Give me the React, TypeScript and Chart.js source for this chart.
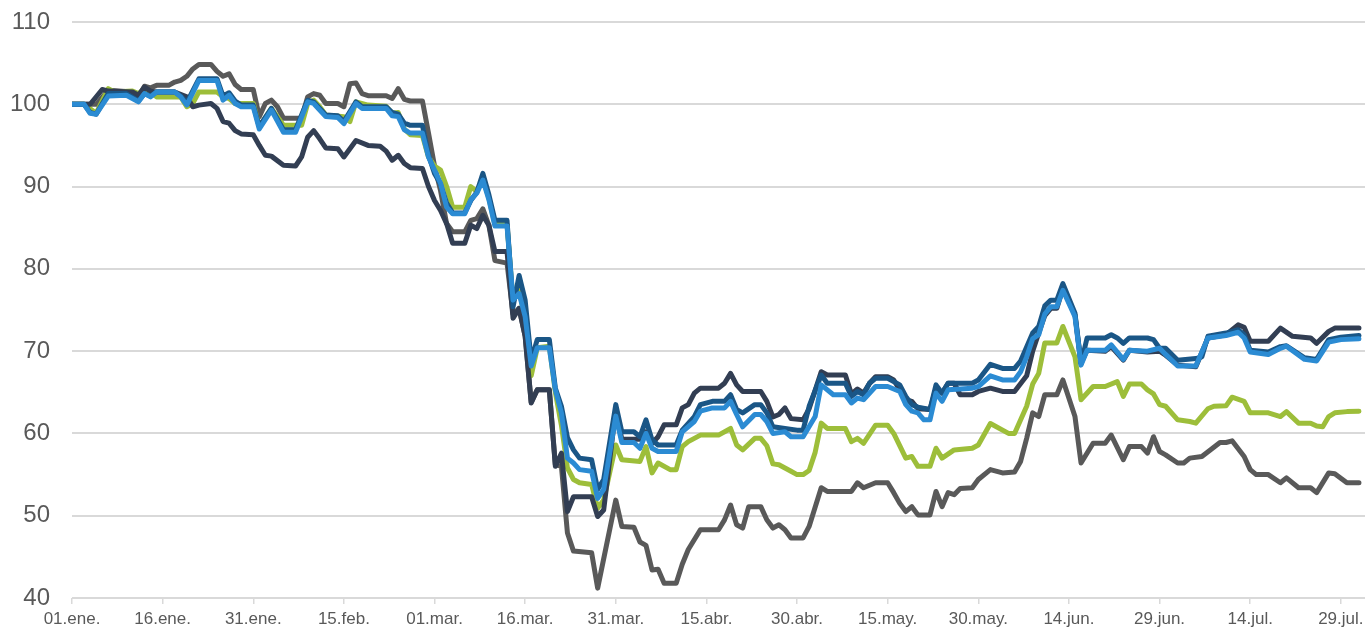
import React, { useEffect, useRef } from "react";
import { Chart, registerables } from "chart.js";

Chart.register(...registerables);

// x = days since 01.ene.
const tickDays = [0, 15, 30, 45, 60, 75, 90, 105, 120, 135, 150, 165, 180, 195, 210];
const tickLabels = ["01.ene.", "16.ene.", "31.ene.", "15.feb.", "01.mar.", "16.mar.", "31.mar.", "15.abr.", "30.abr.", "15.may.", "30.may.", "14.jun.", "29.jun.", "14.jul.", "29.jul."];
const yTicks = [40, 50, 60, 70, 80, 90, 100, 110];

const grayDays = [0, 4, 6, 10, 11, 12, 13, 14, 16, 17, 18, 19, 20, 21, 23, 24, 25, 26, 27, 28, 30, 31, 32, 33, 34, 35, 38, 39, 40, 41, 42, 44, 45, 46, 47, 48, 49, 52, 53, 54, 55, 56, 58, 59, 60, 61, 62, 63, 65, 66, 67, 68, 69, 70, 72, 73, 74, 75, 76, 77, 79, 80, 81, 82, 83, 86, 87, 90, 91, 93, 94, 95, 96, 97, 98, 100, 101, 102, 104, 107, 108, 109, 110, 111, 112, 114, 115, 116, 117, 118, 119, 121, 122, 124, 125, 129, 130, 131, 133, 135, 136, 137, 138, 139, 140, 142, 143, 144, 145, 146, 147, 149, 150, 152, 154, 156, 157, 158, 159, 160, 161, 163, 164, 166, 167, 169, 171, 172, 174, 175, 177, 178, 179, 180, 181, 183, 184, 185, 187, 190, 191, 192, 194, 195, 196, 198, 200, 201, 203, 205, 206, 208, 209, 211, 213];
const grayValues = [100, 100, 101.7, 101.5, 100.9, 102.2, 102.0, 102.3, 102.3, 102.7, 102.9, 103.4, 104.3, 104.85, 104.85, 104.0, 103.4, 103.7, 102.4, 101.8, 101.8, 98.5, 100.1, 100.5, 99.7, 98.3, 98.3, 100.9, 101.3, 101.1, 100.1, 100.1, 99.7, 102.5, 102.6, 101.3, 101.05, 101.05, 100.7, 101.9, 100.6, 100.4, 100.4, 96.5, 92.5, 89.5, 85.5, 84.5, 84.5, 85.9, 86.1, 87.3, 85.3, 81.0, 80.7, 74.5, 75.2, 71.8, 63.8, 65.3, 65.3, 56.2, 56.0, 47.9, 45.7, 45.5, 41.2, 51.9, 48.7, 48.6, 46.8, 46.4, 43.4, 43.5, 41.8, 41.8, 44.1, 45.9, 48.3, 48.3, 49.5, 51.3, 48.9, 48.5, 51.1, 51.1, 49.5, 48.5, 48.9, 48.3, 47.3, 47.3, 48.7, 53.4, 52.95, 52.95, 54.0, 53.4, 54.0, 54.0, 52.8, 51.5, 50.5, 51.1, 50.1, 50.1, 52.95, 51.1, 52.8, 52.55, 53.3, 53.4, 54.4, 55.6, 55.2, 55.3, 56.6, 59.4, 62.5, 62.05, 64.7, 64.7, 66.5, 62.05, 56.4, 58.8, 58.8, 59.8, 56.8, 58.4, 58.4, 57.6, 59.6, 57.8, 57.4, 56.4, 56.4, 57.0, 57.2, 58.9, 58.9, 59.1, 57.2, 55.6, 55.0, 55.0, 54.0, 54.6, 53.4, 53.4, 52.8, 55.2, 55.1, 54.0, 54.0];

const navyDays = [0, 3, 5, 6, 10, 11, 12, 13, 14, 17, 19, 20, 21, 23, 24, 25, 26, 27, 28, 30, 31, 32, 33, 35, 37, 38, 39, 40, 41, 42, 44, 45, 47, 49, 51, 52, 53, 54, 55, 56, 58, 59, 60, 61, 62, 63, 65, 66, 67, 68, 69, 70, 72, 73, 74, 75, 76, 77, 79, 80, 81, 82, 83, 86, 87, 88, 90, 91, 94, 95, 96, 97, 98, 100, 101, 102, 103, 104, 107, 108, 109, 110, 111, 114, 115, 116, 117, 118, 119, 121, 122, 124, 125, 128, 129, 130, 131, 132, 133, 135, 136, 138, 139, 140, 142, 143, 144, 145, 146, 147, 149, 150, 152, 154, 156, 158, 159, 160, 161, 162, 163, 164, 166, 167, 168, 171, 172, 174, 175, 178, 180, 181, 183, 186, 188, 191, 193, 194, 195, 198, 200, 202, 205, 206, 208, 209, 213];
const navyValues = [100, 100, 101.8, 101.6, 101.5, 101.1, 102.1, 101.6, 101.5, 101.5, 100.9, 99.7, 99.9, 100.1, 99.5, 97.9, 97.7, 96.8, 96.4, 96.3, 95.0, 93.8, 93.7, 92.6, 92.5, 93.6, 96.0, 96.8, 95.8, 94.7, 94.6, 93.6, 95.6, 95.0, 94.9, 94.3, 93.2, 93.8, 92.8, 92.3, 92.2, 90.0, 88.3, 87.1, 85.5, 83.1, 83.1, 85.3, 84.9, 86.5, 85.3, 82.1, 82.1, 74.0, 75.2, 71.8, 63.7, 65.3, 65.3, 56.0, 57.6, 50.5, 52.3, 52.3, 49.9, 50.7, 62.9, 59.3, 59.3, 60.2, 58.8, 59.6, 61.05, 61.05, 63.1, 63.5, 64.9, 65.5, 65.5, 66.1, 67.3, 65.9, 65.1, 65.1, 63.9, 62.0, 62.3, 63.1, 61.8, 61.65, 63.0, 67.5, 67.1, 67.1, 64.8, 65.4, 64.9, 66.1, 66.9, 66.9, 66.5, 64.1, 63.9, 63.0, 62.9, 65.5, 64.9, 66.1, 66.1, 64.7, 64.7, 65.1, 65.5, 65.1, 65.1, 67.0, 70.0, 72.2, 74.3, 75.2, 75.2, 77.6, 74.4, 68.5, 70.1, 70.0, 70.55, 68.9, 70.1, 69.9, 70.0, 69.5, 68.3, 68.1, 71.6, 72.0, 73.2, 72.9, 71.2, 71.2, 72.8, 71.8, 71.6, 70.95, 72.4, 72.8, 72.8];

const greenDays = [0, 2, 4, 6, 7, 10, 11, 12, 13, 14, 18, 19, 20, 21, 24, 25, 26, 27, 30, 31, 33, 35, 38, 39, 40, 41, 42, 45, 46, 47, 49, 52, 53, 54, 55, 56, 58, 59, 60, 61, 62, 63, 65, 66, 67, 68, 69, 70, 72, 73, 74, 75, 76, 77, 79, 80, 81, 82, 83, 84, 86, 87, 88, 90, 91, 94, 95, 96, 97, 99, 100, 101, 102, 104, 107, 109, 110, 111, 113, 114, 115, 116, 117, 119, 120, 121, 122, 123, 124, 125, 128, 129, 130, 131, 133, 135, 136, 138, 139, 140, 142, 143, 144, 146, 149, 150, 152, 155, 156, 158, 159, 160, 161, 163, 164, 166, 167, 169, 171, 173, 174, 175, 177, 178, 179, 180, 181, 183, 185, 186, 188, 189, 191, 192, 194, 195, 198, 200, 201, 203, 205, 206, 207, 208, 209, 211, 213];
const greenValues = [100, 100, 98.9, 101.9, 101.5, 101.6, 101.3, 101.9, 101.5, 100.9, 100.9, 99.7, 100.1, 101.5, 101.5, 100.9, 100.7, 100.1, 100.1, 97.25, 99.5, 97.45, 97.45, 100.1, 100.5, 99.7, 98.7, 98.5, 97.9, 100.3, 99.9, 99.75, 98.9, 99.0, 97.0, 96.3, 96.2, 93.6, 92.5, 92.0, 90.0, 87.5, 87.5, 90.0, 89.4, 91.0, 88.6, 85.4, 85.4, 76.0, 77.8, 73.4, 67.0, 70.4, 70.6, 65.0, 61.0, 55.8, 54.4, 54.0, 53.8, 50.9, 51.9, 58.6, 56.8, 56.6, 58.4, 55.2, 56.4, 55.6, 55.6, 58.4, 59.0, 59.8, 59.8, 60.6, 58.6, 58.0, 59.4, 59.4, 58.5, 56.3, 56.2, 55.4, 55.0, 55.0, 55.5, 57.7, 61.25, 60.6, 60.6, 59.0, 59.4, 58.8, 61.0, 61.0, 60.0, 57.0, 57.2, 56.0, 56.0, 58.2, 57.0, 58.0, 58.2, 58.6, 61.2, 60.0, 60.0, 63.3, 66.0, 67.3, 71.0, 71.0, 73.0, 69.3, 64.1, 65.7, 65.7, 66.3, 64.5, 66.0, 66.0, 65.3, 64.8, 63.5, 63.3, 61.65, 61.45, 61.25, 63.0, 63.3, 63.35, 64.4, 63.9, 62.5, 62.5, 62.05, 62.65, 61.25, 61.25, 60.9, 60.8, 62.05, 62.5, 62.65, 62.7];

const darkBlueDays = [0, 2, 3, 4, 6, 9, 11, 12, 13, 14, 17, 18, 19, 21, 24, 25, 26, 27, 28, 30, 31, 33, 35, 37, 39, 40, 42, 44, 45, 47, 48, 52, 53, 54, 55, 56, 58, 59, 60, 61, 62, 63, 65, 66, 67, 68, 69, 70, 72, 73, 74, 75, 76, 77, 79, 80, 81, 82, 83, 84, 86, 87, 88, 90, 91, 93, 94, 95, 96, 97, 100, 101, 103, 104, 106, 108, 109, 110, 111, 113, 114, 115, 116, 118, 120, 121, 122, 124, 125, 128, 129, 130, 131, 132, 133, 135, 137, 138, 139, 140, 142, 143, 144, 145, 149, 150, 152, 154, 156, 157, 158, 159, 160, 161, 162, 163, 164, 166, 167, 168, 171, 172, 173, 174, 175, 178, 179, 180, 181, 183, 186, 187, 188, 191, 193, 194, 195, 198, 200, 201, 204, 206, 208, 210, 213];
const darkBlueValues = [100, 100, 99.0, 98.8, 101.3, 101.3, 100.4, 101.3, 101.0, 101.5, 101.5, 101.0, 100.2, 103.1, 103.1, 101.0, 101.4, 100.4, 99.9, 99.9, 97.3, 99.5, 96.9, 96.9, 100.5, 100.3, 98.7, 98.6, 97.9, 100.3, 99.7, 99.7, 99.0, 98.8, 97.7, 97.45, 97.45, 93.8, 91.6, 90.3, 88.0, 86.8, 86.8, 88.3, 89.3, 91.6, 89.0, 85.9, 85.9, 75.4, 79.2, 76.2, 68.9, 71.4, 71.4, 65.5, 63.3, 59.5, 58.0, 57.0, 56.8, 53.2, 54.4, 63.5, 60.2, 60.2, 59.6, 61.65, 59.2, 58.6, 58.6, 60.4, 62.05, 63.5, 63.9, 63.9, 64.7, 62.9, 62.5, 63.5, 63.5, 62.5, 60.8, 60.6, 60.4, 60.4, 63.3, 67.1, 66.1, 66.1, 64.5, 65.1, 64.7, 66.1, 66.7, 66.7, 65.9, 64.5, 63.5, 63.2, 62.9, 65.9, 64.9, 66.1, 66.1, 66.5, 68.4, 67.9, 67.9, 68.8, 70.5, 72.2, 73.0, 75.5, 76.2, 76.2, 78.2, 74.6, 68.5, 71.6, 71.6, 72.0, 71.6, 70.95, 71.6, 71.6, 71.4, 70.35, 70.35, 68.9, 69.1, 69.3, 71.8, 72.2, 72.6, 72.0, 70.1, 69.9, 70.55, 70.65, 69.2, 69.0, 71.4, 71.7, 71.9];

const blueDays = [0, 2, 3, 4, 6, 9, 11, 12, 13, 14, 17, 18, 19, 21, 24, 25, 26, 27, 28, 30, 31, 33, 35, 37, 39, 40, 42, 44, 45, 47, 48, 52, 53, 54, 55, 56, 58, 59, 60, 61, 62, 63, 65, 66, 67, 68, 69, 70, 72, 73, 74, 75, 76, 77, 79, 80, 81, 82, 83, 84, 86, 87, 88, 90, 91, 93, 94, 95, 96, 97, 100, 101, 103, 104, 106, 108, 109, 110, 111, 113, 114, 115, 116, 118, 119, 121, 123, 124, 126, 128, 129, 130, 131, 133, 135, 137, 138, 139, 140, 141, 142, 143, 144, 145, 149, 150, 152, 154, 156, 157, 158, 159, 160, 161, 162, 163, 164, 166, 167, 168, 171, 172, 174, 175, 178, 180, 181, 183, 186, 188, 191, 193, 194, 195, 198, 200, 201, 204, 206, 208, 210, 213];
const blueValues = [100, 100, 98.9, 98.8, 101.0, 101.1, 100.3, 101.3, 100.9, 101.5, 101.5, 100.9, 99.9, 102.9, 102.9, 100.5, 101.1, 100.1, 99.7, 99.7, 97.0, 99.3, 96.6, 96.6, 100.3, 100.1, 98.5, 98.4, 97.65, 100.1, 99.5, 99.5, 98.6, 98.5, 96.9, 96.5, 96.5, 93.6, 92.0, 90.4, 87.5, 86.7, 86.7, 88.4, 89.2, 90.8, 88.4, 85.2, 85.2, 76.2, 77.0, 74.2, 68.2, 70.4, 70.4, 65.3, 62.5, 57.0, 56.4, 55.6, 55.4, 52.1, 53.2, 62.1, 58.9, 58.9, 58.2, 60.0, 58.2, 57.8, 57.8, 60.2, 61.45, 62.7, 63.1, 63.1, 63.9, 62.3, 60.8, 62.3, 62.3, 61.45, 60.0, 60.2, 59.6, 59.6, 62.05, 65.9, 64.7, 64.7, 63.7, 64.3, 64.1, 65.7, 65.7, 65.1, 63.5, 62.7, 62.5, 61.65, 61.65, 64.9, 63.9, 65.3, 65.5, 65.7, 67.0, 66.5, 66.5, 67.5, 69.3, 71.5, 72.0, 74.5, 75.4, 75.4, 77.4, 74.2, 68.3, 70.1, 70.1, 70.75, 69.0, 70.1, 70.0, 70.35, 69.6, 68.2, 68.2, 71.6, 71.9, 72.3, 71.6, 69.9, 69.6, 70.35, 70.6, 69.0, 68.8, 71.1, 71.4, 71.5];

const toPoints = (days: number[], values: number[]) => days.map((d, i) => ({ x: d, y: values[i] }));

export default function App() {
  const ref = useRef<HTMLCanvasElement | null>(null);

  useEffect(() => {
    if (!ref.current) return;
    const line = (data: { x: number; y: number }[], color: string, order: number) => ({
      data,
      borderColor: color,
      backgroundColor: color,
      borderWidth: 5,
      borderCapStyle: "round" as const,
      borderJoinStyle: "round" as const,
      pointRadius: 0,
      tension: 0,
      fill: false,
      order,
    });
    const chart = new Chart(ref.current, {
      type: "line",
      data: {
        datasets: [
          line(toPoints(blueDays, blueValues), "#2B8BD3", 0),
          line(toPoints(darkBlueDays, darkBlueValues), "#1A5686", 1),
          line(toPoints(navyDays, navyValues), "#323E53", 2),
          line(toPoints(greenDays, greenValues), "#9DBE3A", 3),
          line(toPoints(grayDays, grayValues), "#595959", 4),
        ],
      },
      options: {
        animation: false,
        responsive: false,
        maintainAspectRatio: false,
        layout: { padding: { top: 22, right: 5, left: 0, bottom: 0 } },
        plugins: { legend: { display: false }, tooltip: { enabled: false } },
        scales: {
          x: {
            type: "linear",
            min: 0,
            max: 214,
            afterBuildTicks: (s: any) => {
              s.ticks = tickDays.map((v) => ({ value: v }));
            },
            afterFit: (s: any) => {
              s.height = 32;
            },
            ticks: {
              autoSkip: false,
              maxRotation: 0,
              padding: 5,
              color: "#595959",
              font: { family: "'Liberation Sans', Arial, sans-serif", size: 17 },
              callback: (v: any) => {
                const i = tickDays.indexOf(Number(v));
                return i >= 0 ? tickLabels[i] : "";
              },
            },
            grid: { drawOnChartArea: false, drawTicks: true, tickLength: 6, color: "#D9D9D9", lineWidth: 1.5 },
            border: { display: false },
          },
          y: {
            min: 40,
            max: 110,
            afterBuildTicks: (s: any) => {
              s.ticks = yTicks.map((v) => ({ value: v }));
            },
            afterFit: (s: any) => {
              s.width = 72;
            },
            ticks: {
              padding: 0,
              color: "#595959",
              font: { family: "'Liberation Sans', Arial, sans-serif", size: 24 },
            },
            grid: { drawTicks: true, tickLength: 22, tickColor: "rgba(0,0,0,0)", color: "#D9D9D9", lineWidth: 2 },
            border: { display: false },
          },
        },
      },
    });
    return () => chart.destroy();
  }, []);

  return (
    <div style={{ position: "fixed", left: 0, top: 0, width: 1370, height: 630, background: "#ffffff" }}>
      <canvas ref={ref} width={1370} height={630} style={{ width: 1370, height: 630, display: "block" }} />
    </div>
  );
}
